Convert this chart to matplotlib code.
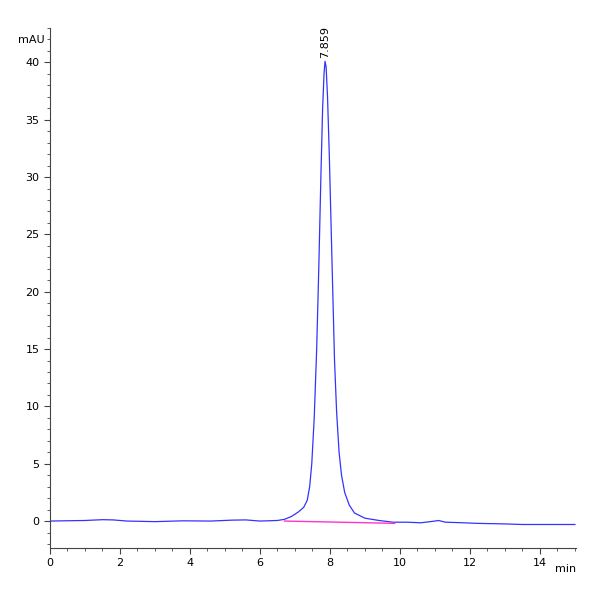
import matplotlib
matplotlib.use("Agg")
import matplotlib.pyplot as plt
from matplotlib.ticker import MultipleLocator

time_min = [0.0, 1.0, 1.5, 1.8, 2.2, 3.0, 3.8, 4.6, 5.2, 5.6, 6.0, 6.5, 6.7, 6.9, 7.1, 7.25, 7.35, 7.42,
            7.48, 7.55, 7.62, 7.68, 7.74, 7.79, 7.83, 7.859, 7.89, 7.93, 7.98, 8.03, 8.08, 8.13, 8.19,
            8.26, 8.33, 8.42, 8.55, 8.7, 9.0, 9.4, 9.8, 10.2, 10.6, 11.0, 11.1, 11.3, 11.8, 12.2, 13.0,
            13.5, 14.0, 15.0]
signal_mau = [0.0, 0.05, 0.12, 0.1, 0.0, -0.05, 0.02, 0.0, 0.08, 0.1, 0.0, 0.05, 0.15, 0.4, 0.8, 1.2, 1.8, 3.0,
              5.0, 9.0, 15.0, 22.0, 30.0, 36.0, 39.0, 40.1, 39.6, 37.0, 32.0, 26.0, 20.0, 14.0, 9.5,
              6.0, 4.0, 2.5, 1.4, 0.7, 0.25, 0.05, -0.1, -0.1, -0.15, 0.0, 0.05, -0.1, -0.15, -0.2, -0.25,
              -0.3, -0.3, -0.3]
baseline_t = [6.7, 9.85]
baseline_v = [0.0, -0.2]
peak_t = 7.859
peak_v = 40.1

fig = plt.figure(figsize=(6, 6), dpi=100)
ax = fig.add_axes([50/600, 1-548/600, 526/600, (548-28)/600])
ax.plot(time_min, signal_mau, color="#3333ff", lw=0.9)
ax.plot(baseline_t, baseline_v, color="#ff33cc", lw=1)
ax.text(peak_t, peak_v + 0.3, "7.859", rotation=90, ha="center", va="bottom", fontsize=8)
ax.set_xlim(0, 15.03)
ax.set_ylim(-2.35, 43.0)
ax.xaxis.set_major_locator(MultipleLocator(2))
ax.xaxis.set_minor_locator(MultipleLocator(0.5))
ax.yaxis.set_major_locator(MultipleLocator(5))
ax.yaxis.set_minor_locator(MultipleLocator(1))
for s in ["top", "right"]:
    ax.spines[s].set_visible(False)
for s in ["left", "bottom"]:
    ax.spines[s].set_color("#444444")
    ax.spines[s].set_linewidth(0.8)
ax.tick_params(labelsize=8, length=4, color="#444444")
ax.tick_params(which="minor", length=2.5, color="#444444")
ax.text(-0.01, 1 - 12/520, "mAU", transform=ax.transAxes, ha="right", va="center", fontsize=8)
ax.text(1.0, -0.03, "min", transform=ax.transAxes, ha="right", va="top", fontsize=8)
fig.savefig("out.png", dpi=100)
